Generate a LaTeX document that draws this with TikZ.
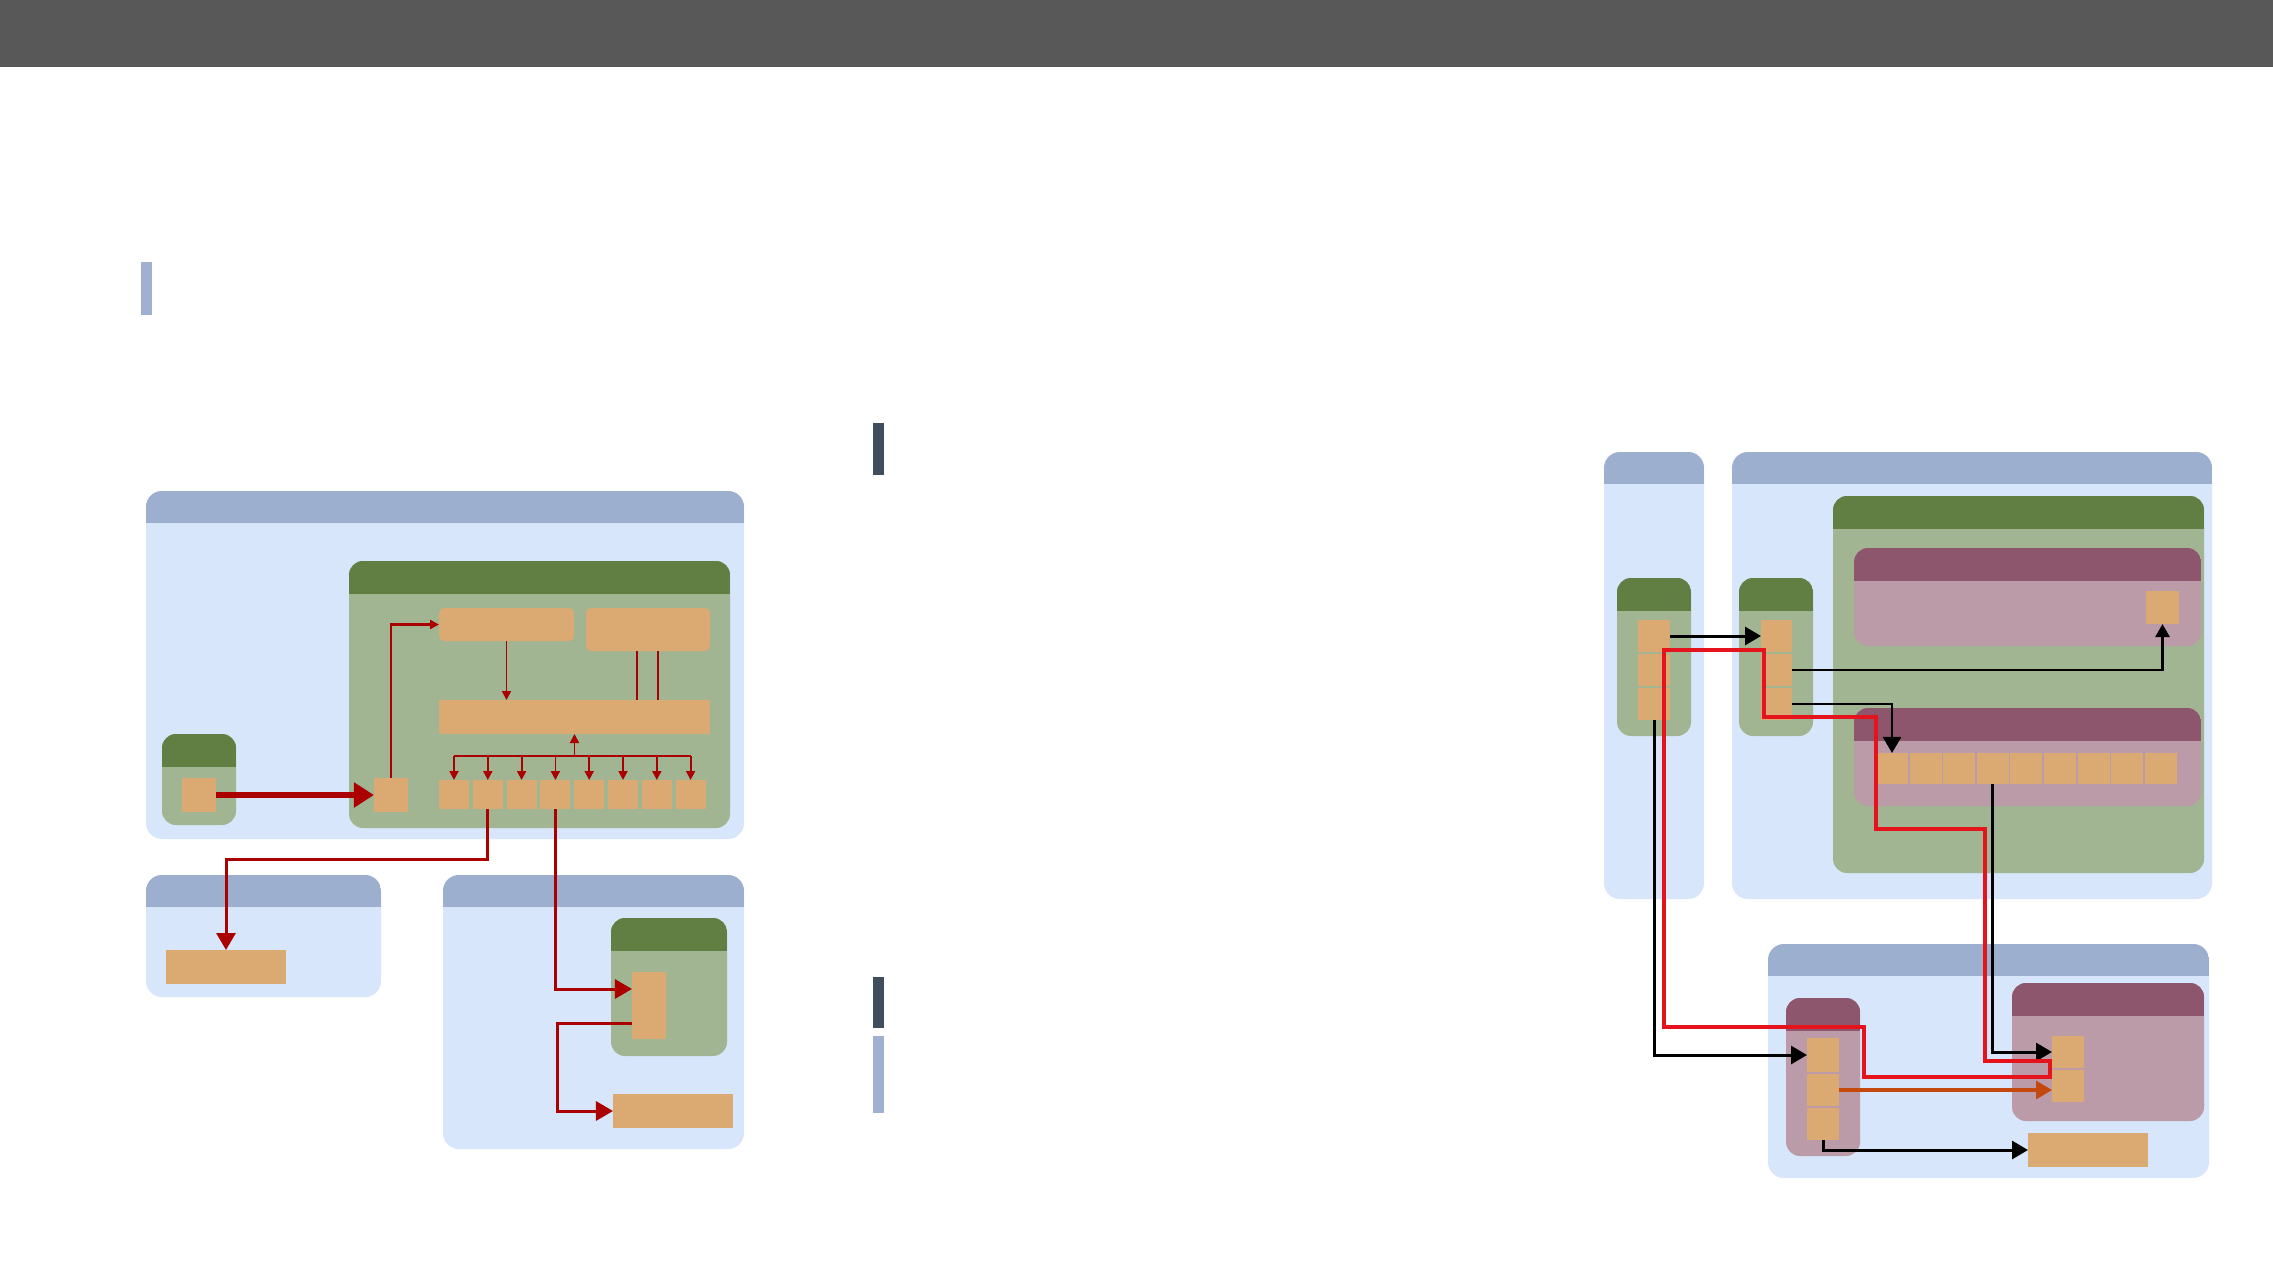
\documentclass[tikz,border=0pt]{standalone}
\usetikzlibrary{arrows.meta}
\definecolor{pfill}{HTML}{D7E6FA}
\definecolor{phdr}{HTML}{9DAFCF}
\definecolor{gfill}{HTML}{A2B592}
\definecolor{ghdr}{HTML}{627F43}
\definecolor{ofill}{HTML}{DBA972}
\definecolor{pufill}{HTML}{BC9BA9}
\definecolor{puhdr}{HTML}{8D566C}
\definecolor{dred}{HTML}{AA0000}
\definecolor{bred}{HTML}{E5131B}
\definecolor{ored}{HTML}{C4490E}
\definecolor{topbar}{HTML}{585858}
\definecolor{sidelight}{HTML}{A0B0D0}
\definecolor{sidedark}{HTML}{3E4E5C}
\newcommand\mybox[6]{\node[#6,minimum width={((#4)-(#2))*0.01cm},minimum height={((#5)-(#3))*0.01cm}] (#1) at ({((#2)+(#4))/2},{((#3)+(#5))/2}) {};}
\tikzset{
  box/.style={inner sep=0pt,outer sep=0pt,draw=none},
  hdr/.style 2 args={path picture={\fill[#1,sharp corners] (path picture bounding box.north west) rectangle ([yshift=-#2cm]path picture bounding box.north east);}},
  panel/.style={box,fill=pfill,rounded corners=0.16cm,hdr={phdr}{0.32}},
  gbox/.style={box,fill=gfill,rounded corners=0.14cm,hdr={ghdr}{0.33}},
  pubox/.style={box,fill=pufill,rounded corners=0.14cm,hdr={puhdr}{0.33}},
  obox/.style={box,fill=ofill},
  drthick/.style={draw=dred,line width=0.055cm,-{Triangle[length=0.2cm,width=0.24cm]}},
  drmed/.style={draw=dred,line width=0.03cm,-{Triangle[length=0.17cm,width=0.19cm]}},
  drsmall/.style={draw=dred,line width=0.022cm,-{Triangle[length=0.09cm,width=0.09cm]}},
  drline/.style={draw=dred,line width=0.02cm},
  blk/.style={draw=black,line width=0.03cm,-{Triangle[length=0.16cm,width=0.18cm]}},
  orr/.style={draw=ored,line width=0.032cm,-{Triangle[length=0.16cm,width=0.18cm]}},
  brloop/.style={draw=bred,line width=0.032cm,line join=miter},
}
\begin{document}
\begin{tikzpicture}[x=0.01cm,y=-0.01cm]
\useasboundingbox (0,0) rectangle (2273,1276);
\fill[white] (0,0) rectangle (2273,1276);
% top bar and side markers
\mybox{topbar}{0}{0}{2273}{67}{box,fill=topbar}
\mybox{mk1}{141}{262}{152}{315}{box,fill=sidelight}
\mybox{mk2}{873}{423}{884}{475}{box,fill=sidedark}
\mybox{mk3}{873}{977}{884}{1028}{box,fill=sidedark}
\mybox{mk4}{873}{1036}{884}{1113}{box,fill=sidelight}

% ===== left diagram =====
\mybox{P1}{146}{491}{744}{839}{panel}
\mybox{G1}{349}{561}{730}{828}{gbox}
\mybox{G2}{162}{734}{236}{825}{gbox}
\mybox{osrc}{182}{778}{216}{812}{obox}
\mybox{oin}{374}{778}{408}{812}{obox}
\mybox{A}{439}{608}{574}{641}{obox,rounded corners=0.05cm}
\mybox{B}{586}{608}{710}{651}{obox,rounded corners=0.05cm}
\mybox{C}{439}{700}{710}{734}{obox}
\foreach \i in {1,...,8}{
  \mybox{s\i}{439+(\i-1)*33.8}{780}{469+(\i-1)*33.8}{809}{obox}
}
\mybox{PD}{146}{875}{381}{997}{panel}
\mybox{Dor}{166}{950}{286}{984}{obox}
\mybox{PE}{443}{875}{744}{1149}{panel}
\mybox{GE}{611}{918}{727}{1056}{gbox}
\mybox{tall}{632}{972}{666}{1039}{obox}
\mybox{wide}{613}{1094}{733}{1128}{obox}

\coordinate (bus) at (0,756);
\draw[drthick] (osrc.east) -- (oin.west);
\draw[drsmall] (oin.north) |- (A.west);
\draw[drsmall,line width=0.016cm] (A.south) -- (A.south |- C.north);
\draw[drline] ([xshift=-0.11cm]B.south) -- ++(0,49);
\draw[drline] ([xshift=0.10cm]B.south) -- ++(0,49);
\draw[drline] (s1.north |- bus) -- (s8.north |- bus);
\draw[drsmall,line width=0.018cm] (C.south |- bus) -- (C.south);
\foreach \i in {1,...,8}{
  \draw[drsmall,line width=0.018cm] (s\i.north |- bus) -- (s\i.north);
}
\draw[drmed] (s2.south) -- ++(0,50) -| (Dor.north);
\draw[drmed] (s4.south) |- ([yshift=0.165cm]tall.west);
\draw[drmed] ([yshift=-0.175cm]tall.west) -- ++(-75,0) |- (wide.west);

% ===== right diagram =====
\mybox{PL}{1604}{452}{1704}{899}{panel}
\mybox{PR}{1732}{452}{2212}{899}{panel}
\mybox{GB}{1833}{496}{2204}{873}{gbox}
\mybox{PU1}{1854}{548}{2201}{646}{pubox}
\mybox{ot}{2146}{591}{2179}{624}{obox}
\mybox{PU2}{1854}{708}{2201}{806}{pubox}
\foreach \i in {1,...,9}{
  \mybox{r\i}{1876+(\i-1)*33.6}{753}{1908+(\i-1)*33.6}{784}{obox}
}
\mybox{GL}{1617}{578}{1691}{736}{gbox}
\mybox{GR}{1739}{578}{1813}{736}{gbox}
\mybox{L1}{1638}{620}{1670}{652}{obox}
\mybox{L2}{1638}{654}{1670}{686}{obox}
\mybox{L3}{1638}{688}{1670}{720}{obox}
\mybox{R1}{1761}{620}{1792}{652}{obox}
\mybox{R2}{1761}{654}{1792}{686}{obox}
\mybox{R3}{1761}{688}{1792}{720}{obox}
\mybox{PB}{1768}{944}{2209}{1178}{panel}
\mybox{PS}{1786}{998}{1860}{1156}{pubox}
\mybox{S1}{1807}{1038}{1839}{1072}{obox}
\mybox{S2}{1807}{1074}{1839}{1106}{obox}
\mybox{S3}{1807}{1108}{1839}{1140}{obox}
\mybox{PT}{2012}{983}{2204}{1121}{pubox}
\mybox{T1}{2052}{1036}{2084}{1068}{obox}
\mybox{T2}{2052}{1070}{2084}{1102}{obox}
\mybox{wide2}{2028}{1133}{2148}{1167}{obox}

\draw[blk] (L1.east) -- (L1.east -| R1.west);
\draw[blk,line width=0.026cm,-{Triangle[length=0.13cm,width=0.14cm]}] (R2.east) -| (ot.south);
\draw[blk,line width=0.026cm] (R3.east) -| (r1.north);
\draw[blk] (L3.south) |- (S1.west);
\draw[blk] (r4.south) |- (T1.west);
\draw[orr] (S2.east) -- (S2.east -| T2.west);
\draw[blk] (S3.south) |- (wide2.west);
\coordinate (rl0) at (1664,1027);
\draw[brloop] (rl0) -- ++(0,-377) -- ++(100,0) -- ++(0,67) -- ++(112,0) -- ++(0,112)
  -- ++(109,0) -- ++(0,232) -- ++(65,0) -- ++(0,16) -- ++(-186,0) -- ++(0,-50) -- cycle;
\end{tikzpicture}
\end{document}
